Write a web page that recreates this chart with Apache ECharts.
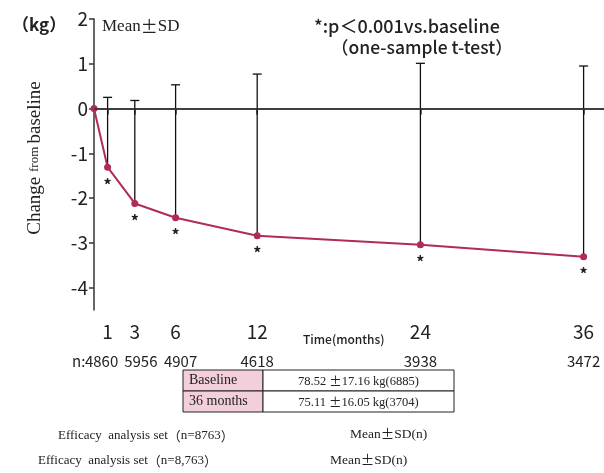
<!DOCTYPE html>
<html>
<head>
<meta charset="utf-8">
<script src="https://cdn.jsdelivr.net/npm/echarts@6/dist/echarts.min.js"></script>
<style>
  html, body { margin: 0; padding: 0; background: #fff; }
  #chart { width: 604px; height: 473px; }
</style>
</head>
<body>
<div id="chart"></div>
<script>
// 数据
const months = [0, 1, 3, 6, 12, 24, 36];
const meanChange = [0, -1.31, -2.12, -2.44, -2.84, -3.04, -3.31];
const sdValues = [0, 1.56, 2.30, 2.97, 3.61, 4.05, 4.26];
const significant = [false, true, true, true, true, true, true];
const nCounts = ['', '4860', '5956', '4907', '4618', '3938', '3472'];
const tickMonths = [1, 3, 6, 12, 24, 36];
const yTicks = [-4, -3, -2, -1, 0, 1, 2];
const tableRows = [
  ['Baseline', '78.52 ', '17.16 kg(6885)'],
  ['36 months', '75.11 ', '16.05 kg(3704)']
];

const lineColor = '#b02c55';
const gothic = '"Noto Sans CJK JP", sans-serif';
const jpGothic = '"Noto Sans CJK JP", sans-serif';
const serif = '"Liberation Serif", "DejaVu Serif", serif';
// 例数标签的水平微调（避免重叠）
const nShift = [0, -6, 6, 5, 0, 0, 0];

let chart = echarts.init(document.getElementById('chart'));

let lineData = months.map((m, i) => [m, meanChange[i]]);
let barData = months.map((m, i) => [m, meanChange[i], meanChange[i] + sdValues[i]]);
let nData = months.map((m, i) => [m, -4.5]);

// 宽的±
let pmRich = (size) => ({
  s: { font: size + 'px ' + serif, fill: '#222' },
  p: { font: size + 'px ' + jpGothic, fill: '#222' }
});

// 表格
let tableGraphics = [];
let tx = 183, ty = 370, rowH = 21, col1 = 80, col2 = 191;
tableRows.forEach((row, i) => {
  tableGraphics.push({
    type: 'rect', shape: { x: tx, y: ty + i * rowH, width: col1, height: rowH },
    style: { fill: '#f3cfdc', stroke: '#222', lineWidth: 1 }
  });
  tableGraphics.push({
    type: 'rect', shape: { x: tx + col1, y: ty + i * rowH, width: col2, height: rowH },
    style: { fill: '#fff', stroke: '#222', lineWidth: 1 }
  });
  tableGraphics.push({
    type: 'text', x: tx + 6, y: ty + i * rowH + rowH / 2,
    style: { text: row[0], font: '14px ' + serif, fill: '#222', verticalAlign: 'middle' }
  });
  tableGraphics.push({
    type: 'text', x: tx + col1 + col2 / 2, y: ty + i * rowH + rowH / 2 + 1,
    style: {
      text: '{s|' + row[1] + '}{p|±}{s|' + row[2] + '}', align: 'center', verticalAlign: 'middle',
      rich: pmRich(12.5)
    }
  });
});

chart.setOption({
  animation: false,
  grid: { left: 94, right: 0, top: 19, bottom: 163 },
  xAxis: {
    type: 'value', min: 0, max: 37.5,
    axisLine: { lineStyle: { color: '#333', width: 1.5 } },
    axisTick: { customValues: tickMonths, length: 6, lineStyle: { color: '#333', width: 1.5 } },
    axisLabel: { customValues: tickMonths, margin: 12, fontSize: 19, color: '#222', fontFamily: gothic },
    splitLine: { show: false }
  },
  yAxis: {
    type: 'value', min: -4.5, max: 2,
    axisLine: { show: true, lineStyle: { color: '#333', width: 1.5 } },
    axisTick: { show: true, customValues: yTicks, length: 5, lineStyle: { color: '#333', width: 1.5 } },
    axisLabel: { customValues: yTicks, margin: 6, fontSize: 19, color: '#222', fontFamily: gothic },
    splitLine: { show: false }
  },
  graphic: [
    { type: 'text', x: 12, y: 25, style: { text: '（kg）', font: 'bold 17px ' + jpGothic, fill: '#222', verticalAlign: 'middle' } },
    { type: 'text', x: 102, y: 27, style: { text: '{s|Mean}{p|±}{s|SD}', verticalAlign: 'middle', rich: pmRich(17) } },
    { type: 'text', x: 314, y: 26, style: { text: '*:p＜0.001vs.baseline', font: '500 18px ' + jpGothic, fill: '#222', verticalAlign: 'middle' } },
    { type: 'text', x: 331, y: 47, style: { text: '（one-sample t-test）', font: '500 17.5px ' + jpGothic, fill: '#222', verticalAlign: 'middle' } },
    {
      type: 'text', x: 35, y: 158, rotation: Math.PI / 2,
      style: {
        text: '{a|Change }{b|from }{a|baseline}', align: 'center', verticalAlign: 'middle',
        rich: {
          a: { font: '19px ' + serif, fill: '#222' },
          b: { font: '13px ' + serif, fill: '#222' }
        }
      }
    },
    { type: 'text', x: 303, y: 339, style: { text: 'Time(months)', font: '500 12px ' + jpGothic, fill: '#222', verticalAlign: 'middle' } },
    { type: 'text', x: 72, y: 361, style: { text: 'n:', font: '15px ' + gothic, fill: '#222', verticalAlign: 'middle' } },
    { type: 'text', x: 58, y: 436, style: { text: '{s|Efficacy  analysis set}{p|（}{s|n=8763}{p|）}', verticalAlign: 'middle', rich: pmRich(13) } },
    { type: 'text', x: 350, y: 434, style: { text: '{s|Mean}{p|±}{s|SD(n)}', verticalAlign: 'middle', rich: pmRich(13.5) } },
    { type: 'text', x: 38, y: 461, style: { text: '{s|Efficacy  analysis set}{p|（}{s|n=8,763}{p|）}', verticalAlign: 'middle', rich: pmRich(13) } },
    { type: 'text', x: 330, y: 460, style: { text: '{s|Mean}{p|±}{s|SD(n)}', verticalAlign: 'middle', rich: pmRich(13.5) } }
  ].concat(tableGraphics),
  series: [{
    type: 'custom',
    z: 1,
    data: barData,
    renderItem: (params, api) => {
      let x = api.value(0), m = api.value(1), u = api.value(2);
      if (u <= m) return null;
      let p1 = api.coord([x, m]);
      let p2 = api.coord([x, u]);
      let style = { stroke: '#111', lineWidth: 1.3 };
      return {
        type: 'group',
        children: [
          { type: 'line', shape: { x1: p1[0], y1: p1[1], x2: p2[0], y2: p2[1] }, style: style },
          { type: 'line', shape: { x1: p2[0] - 4.5, y1: p2[1], x2: p2[0] + 4.5, y2: p2[1] }, style: style }
        ]
      };
    }
  }, {
    // 每个时间点的例数
    type: 'custom',
    clip: false,
    silent: true,
    data: nData,
    renderItem: (params, api) => {
      let label = nCounts[params.dataIndex];
      if (!label) return null;
      let p = api.coord([api.value(0), api.value(1)]);
      return {
        type: 'text',
        x: p[0] + nShift[params.dataIndex], y: p[1] + 51,
        style: { text: label, font: '15px ' + gothic, fill: '#222', align: 'center', verticalAlign: 'middle' }
      };
    }
  }, {
    type: 'line',
    z: 3,
    data: lineData,
    symbol: 'circle',
    symbolSize: 7,
    lineStyle: { color: lineColor, width: 2 },
    itemStyle: { color: lineColor },
    label: {
      show: true, position: 'bottom', distance: 6,
      fontSize: 16, fontWeight: 'bold', color: '#222', fontFamily: jpGothic,
      formatter: (p) => significant[p.dataIndex] ? '*' : ''
    },
    markLine: {
      silent: true, symbol: 'none', label: { show: false },
      lineStyle: { color: '#333', width: 1.5, type: 'solid' },
      data: [{ yAxis: 0 }]
    }
  }]
});
</script>
</body>
</html>
